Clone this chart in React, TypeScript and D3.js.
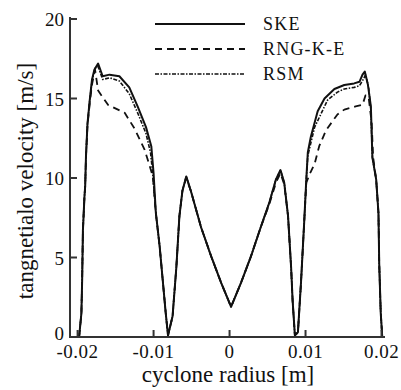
import * as d3 from 'd3';

// cyclone radius [m] / tangential velocity [m/s]
const skeR = [
  -0.0198, -0.0195, -0.0194, -0.0193, -0.0191, -0.019, -0.0189, -0.0187, -0.0184, -0.0181,
  -0.0178, -0.0173, -0.0167, -0.0158, -0.0145, -0.0132, -0.0121, -0.011, -0.0103, -0.01,
  -0.0097, -0.0092, -0.0088, -0.0084, -0.0081, -0.0075, -0.007, -0.0066, -0.0062, -0.0057,
  -0.0051, -0.00375, -0.0024, -0.0011, 0.0002, 0.0015, 0.0028, 0.0041, 0.0052, 0.0061,
  0.0067, 0.0072, 0.0077, 0.0081, 0.0083, 0.0086, 0.009, 0.0094, 0.0098, 0.0101,
  0.0103, 0.0107, 0.0116, 0.0125, 0.0138, 0.0151, 0.0164, 0.0171, 0.0175, 0.0178,
  0.0182, 0.0186, 0.0188, 0.0193, 0.0196, 0.0197, 0.0199, 0.0201,
];
const skeV = [
  0, 1.5, 3.6, 6.7, 8.8, 9.5, 11.3, 13.4, 14.9, 16.2,
  16.8, 17.2, 16.4, 16.5, 16.4, 15.7, 14.5, 13.2, 12.0, 10.3,
  7.8, 5.7, 3.6, 1.5, 0.1, 1.3, 4.4, 7.6, 9.2, 10.1,
  9.2, 6.9, 5.05, 3.4, 1.9, 3.4, 5.05, 6.9, 8.4, 9.9,
  10.5, 9.7, 7.6, 4.4, 2.3, 0.1, 0.3, 3.4, 7.0, 9.9,
  11.6, 12.6, 14.2, 15.0, 15.6, 15.85, 15.95, 16.05, 16.5, 16.7,
  15.9, 14.5, 11.3, 9.9, 7.8, 4.6, 1.5, 0,
];

const rngR = [
  -0.0198, -0.0195, -0.0194, -0.0193, -0.0191, -0.019, -0.0189, -0.0187, -0.0184, -0.0181,
  -0.0177, -0.0173, -0.016, -0.0138, -0.0125, -0.0112, -0.0106, -0.0101,
  -0.0097, -0.0092, -0.0088, -0.0084, -0.0081, -0.0075, -0.007, -0.0066, -0.0062, -0.0057,
  -0.0051, -0.00375, -0.0024, -0.0011, 0.0002, 0.0015, 0.0028, 0.0041, 0.0052, 0.0061,
  0.0067, 0.0072, 0.0077, 0.0081, 0.0083, 0.0086, 0.009, 0.0094, 0.0098, 0.0101,
  0.0106, 0.0112, 0.0118, 0.0127, 0.0142, 0.0151, 0.0166, 0.0175, 0.0179, 0.0183,
  0.0187, 0.0189, 0.0193, 0.0196, 0.0197, 0.0199, 0.0201,
];
const rngV = [
  0, 1.5, 3.6, 6.7, 8.8, 9.5, 11.3, 13.3, 14.7, 15.9,
  16.8, 15.5, 14.6, 14.1, 13.1, 11.8, 10.9, 10.1,
  7.8, 5.7, 3.6, 1.5, 0.1, 1.3, 4.4, 7.6, 9.2, 10.0,
  9.2, 6.9, 5.05, 3.4, 1.9, 3.4, 5.05, 6.9, 8.3, 9.7,
  10.3, 9.6, 7.6, 4.4, 2.3, 0.1, 0.3, 3.4, 7.0, 9.7,
  10.3, 10.9, 12.0, 13.0, 14.0, 14.3, 14.5, 14.6, 15.2, 15.1,
  13.5, 11.3, 9.9, 7.8, 4.6, 1.5, 0,
];

const rsmR = [
  -0.0198, -0.0195, -0.0194, -0.0193, -0.0191, -0.019, -0.0189, -0.0187, -0.0184, -0.0181,
  -0.0177, -0.0173, -0.0167, -0.0158, -0.0145, -0.0132, -0.0121, -0.011, -0.0104, -0.0101,
  -0.0097, -0.0092, -0.0088, -0.0084, -0.0081, -0.0075, -0.007, -0.0066, -0.0062, -0.0057,
  -0.0051, -0.00375, -0.0024, -0.0011, 0.0002, 0.0015, 0.0028, 0.0041, 0.0052, 0.0061,
  0.0067, 0.0072, 0.0077, 0.0081, 0.0083, 0.0086, 0.009, 0.0094, 0.0098, 0.0101,
  0.0103, 0.0112, 0.0129, 0.0142, 0.0151, 0.0164, 0.0171, 0.0176, 0.0179,
  0.0183, 0.0186, 0.0188, 0.0193, 0.0196, 0.0197, 0.0199, 0.0201,
];
const rsmV = [
  0, 1.5, 3.6, 6.7, 8.8, 9.5, 11.3, 13.4, 14.9, 16.1,
  16.9, 17.0, 16.2, 16.3, 16.1, 15.3, 14.1, 12.8, 11.6, 10.2,
  7.8, 5.7, 3.6, 1.5, 0.1, 1.3, 4.4, 7.6, 9.2, 10.1,
  9.2, 6.9, 5.05, 3.4, 1.9, 3.4, 5.05, 6.9, 8.4, 9.9,
  10.5, 9.7, 7.6, 4.4, 2.3, 0.1, 0.3, 3.4, 7.0, 9.9,
  11.4, 13.2, 14.9, 15.4, 15.6, 15.7, 15.8, 16.2, 16.5,
  15.7, 14.3, 11.3, 9.9, 7.8, 4.6, 1.5, 0,
];

const xTicks = [-0.02, -0.01, 0, 0.01, 0.02];
const xTickLabels = ['-0.02', '-0.01', '0', '0.01', '0.02'];
const yTicks = [0, 5, 10, 15, 20];

const seriesNames = ['SKE', 'RNG-K-E', 'RSM'];
const dashes = ['none', '7 5', '4 1.5 1.5 1.5'];

const width = 401;
const height = 390;
const font = '"Liberation Serif", "Times New Roman", serif';

export default function App() {
  const x = d3.scaleLinear().domain([-0.021, 0.02046]).range([70, 385]);
  const y = d3.scaleLinear().domain([0, 20]).range([337, 19]);

  const line = d3
    .line<[number, number]>()
    .x((d) => x(d[0]))
    .y((d) => y(d[1]));

  const series = [
    skeR.map((r, i) => [r, skeV[i]] as [number, number]),
    rngR.map((r, i) => [r, rngV[i]] as [number, number]),
    rsmR.map((r, i) => [r, rsmV[i]] as [number, number]),
  ];
  const widths = [2, 1.8, 1.6];

  return (
    <svg
      width={width}
      height={height}
      style={{ position: 'absolute', left: 0, top: 0, background: '#fff' }}
      fontFamily={font}
    >
      {/* curves */}
      {series.map((pts, i) => (
        <path
          key={seriesNames[i]}
          d={line(pts) || ''}
          fill="none"
          stroke="#111"
          strokeWidth={widths[i]}
          strokeDasharray={dashes[i]}
          strokeLinejoin="round"
        />
      ))}

      {/* axes */}
      <line x1={70} x2={70} y1={17} y2={338} stroke="#333" strokeWidth={2} />
      <line x1={69} x2={385} y1={337} y2={337} stroke="#333" strokeWidth={2} />
      {yTicks.map((t) => (
        <g key={`y${t}`}>
          <line x1={70} x2={77} y1={y(t)} y2={y(t)} stroke="#333" strokeWidth={2} />
          <text x={64} y={t === 0 ? y(t) + 3 : y(t) + 7} textAnchor="end" fontSize={19} fill="#111">
            {t}
          </text>
        </g>
      ))}
      {xTicks.map((t, i) => (
        <g key={`x${t}`}>
          <line x1={x(t)} x2={x(t)} y1={337} y2={330} stroke="#333" strokeWidth={2} />
          <text x={x(t)} y={358} textAnchor="middle" fontSize={19} letterSpacing={0.5} fill="#111">
            {xTickLabels[i]}
          </text>
        </g>
      ))}

      {/* axis titles */}
      <text x={228} y={382} textAnchor="middle" fontSize={23} fill="#111">
        cyclone radius [m]
      </text>
      <text
        transform="translate(33,181) rotate(-90)"
        textAnchor="middle"
        fontSize={23}
        fill="#111"
      >
        tangnetialo velocity [m/s]
      </text>

      {/* legend */}
      {seriesNames.map((name, i) => (
        <g key={`lg${name}`} transform={`translate(0,${24 + i * 25})`}>
          <line
            x1={155}
            x2={245}
            y1={0}
            y2={0}
            stroke="#111"
            strokeWidth={widths[i]}
            strokeDasharray={dashes[i]}
          />
          <text x={263} y={6} fontSize={18} letterSpacing={1.2} fill="#111">
            {name}
          </text>
        </g>
      ))}
    </svg>
  );
}
